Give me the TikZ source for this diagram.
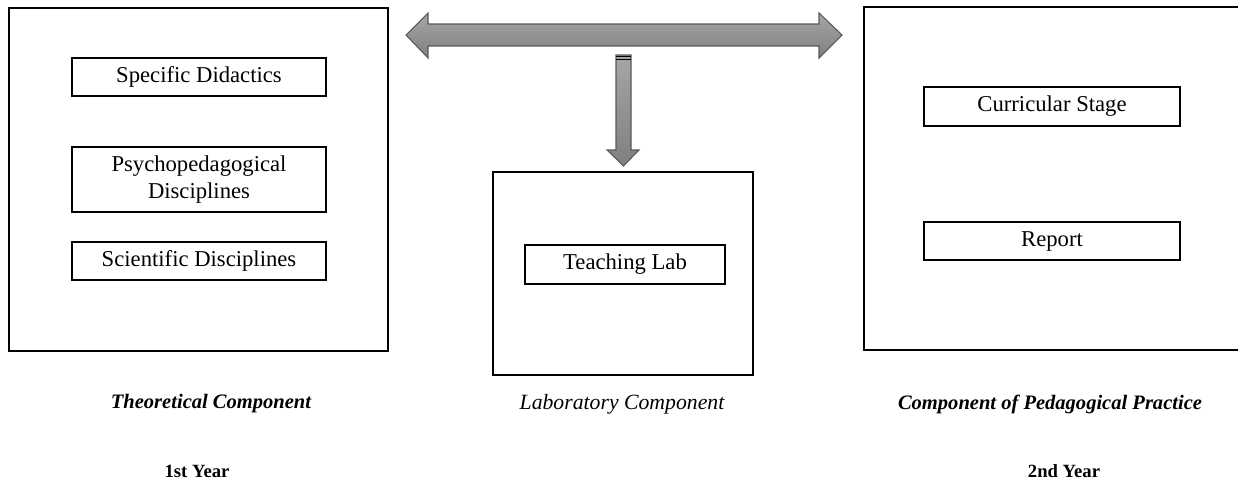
\documentclass[tikz,border=0pt]{standalone}
\usepackage{fontspec}
\setmainfont{Liberation Serif}
\begin{document}
\begin{tikzpicture}[x=0.75pt,y=-0.75pt,
  bigbox/.style={draw=black,line width=0.9pt,inner sep=0pt},
  itembox/.style={draw=black,line width=0.9pt,inner sep=0pt,minimum width=254*0.75pt,align=center,
     font=\fontsize{17}{20.5}\selectfont},
  caption/.style={font=\fontsize{15.4}{18}\selectfont\bfseries\itshape},
  yearlbl/.style={font=\fontsize{14}{16}\selectfont\bfseries},
  grayarrow/.style={draw=black!65,line width=0.8pt,top color=black!35,bottom color=black!50}]
\useasboundingbox (0,0) rectangle (1238,479);
% big boxes
\node[bigbox,minimum width=379*0.75pt,minimum height=343*0.75pt] (theo) at (198.5,179.5) {};
\node[bigbox,minimum width=260*0.75pt,minimum height=203*0.75pt] (lab) at (623,273.5) {};
\node[bigbox,minimum width=386*0.75pt,minimum height=343*0.75pt] (prac) at (1057,178.5) {};
% inner boxes
\node[itembox,minimum height=38*0.75pt] (sd) at (199,77) {Specific Didactics};
\node[itembox,minimum height=65*0.75pt] (psy) at (199,179.5) {Psychopedagogical\\Disciplines};
\node[itembox,minimum height=38*0.75pt] (sci) at (199,261) {Scientific Disciplines};
\node[itembox,minimum width=200*0.75pt,minimum height=39*0.75pt] (tl) at (625,264.5) {Teaching Lab};
\node[itembox,minimum width=256*0.75pt,minimum height=39*0.75pt] (cs) at (1052,106.5) {Curricular Stage};
\node[itembox,minimum width=256*0.75pt,minimum height=38*0.75pt] (rep) at (1052,241) {Report};
% captions
\node[caption] (ctheo) at (211,404) {Theoretical Component};
\node[font=\fontsize{16.3}{19}\selectfont\itshape] (clab) at (622,404) {Laboratory Component};
\node[caption] (cprac) at (1050,404) {Component of Pedagogical Practice};
\node[yearlbl] (y1) at (197,471) {1st Year};
\node[yearlbl] (y2) at (1064,471) {2nd Year};
% double arrow between the theoretical and practice components
\coordinate (dl) at (406,35);
\coordinate (dr) at (842,35);
\path[grayarrow] (dl) -- ++(22,-22) -- ++(0,11) -- ++(391,0) -- ++(0,-11) -- (dr)
  -- ++(-23,23) -- ++(0,-12) -- ++(-391,0) -- ++(0,12) -- cycle;
% down arrow to the laboratory component
\coordinate (dtop) at (623.5,55);
\coordinate (dtip) at (623.5,166);
\path[grayarrow] (dtop) ++(-7.5,0) -- ++(15,0) -- ++(0,95) -- ++(8,0) -- (dtip) -- ++(-16.5,-16)
  -- ++(9,0) -- cycle;
\draw[black,line width=1pt] (616,56.5) -- (631,56.5);
\draw[black,line width=1pt] (616,59.5) -- (631,59.5);
\end{tikzpicture}
\end{document}
